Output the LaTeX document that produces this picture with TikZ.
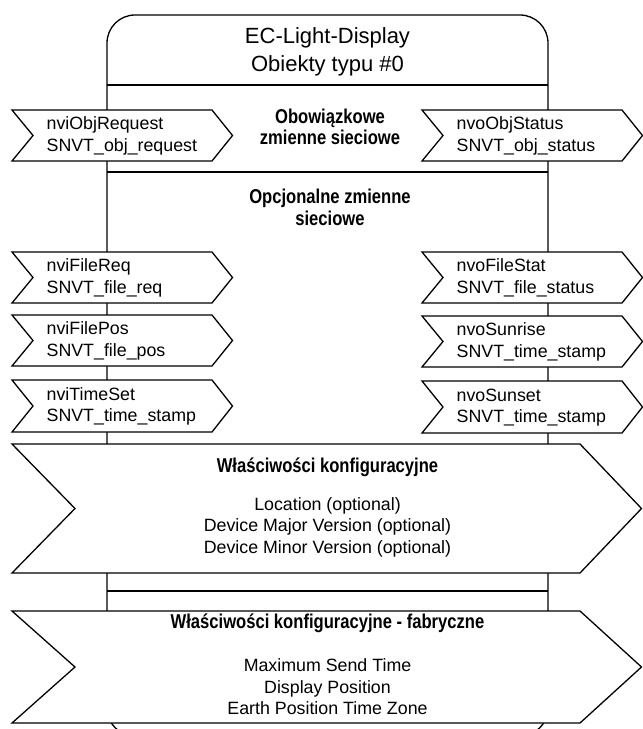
\documentclass[tikz,border=0pt]{standalone}
\usepackage{fontspec}
\setmainfont{Liberation Sans}
\newfontfamily\condsans{Liberation Sans}[FakeStretch=0.83]
\begin{document}
\begin{tikzpicture}[x=1pt,y=-1pt,line width=1.3pt,line join=miter,
  nvtext/.style={anchor=west,align=left,inner sep=0pt,font=\fontsize{17.8}{21.5}\selectfont},
  secttitle/.style={align=center,inner sep=0pt,font=\condsans\bfseries\fontsize{20}{21.5}\selectfont},
  itemtext/.style={align=center,inner sep=0pt,font=\fontsize{17.8}{21.5}\selectfont},
  shapeline/.style={draw=black,fill=white}]
\useasboundingbox (0,0) rectangle (643,729);
\begin{scope}
  \clip (0,0) rectangle (643,729);
  \draw[rounded corners=28pt] (107,736) rectangle (548,15);
\end{scope}
% title
\node[align=center,inner sep=0pt,font=\fontsize{22}{28}\selectfont] (title) at (327.5,52) {EC-Light-Display\\Obiekty typu \#0};
\draw (107,85) -- (548,85);
\draw (107,172) -- (548,172);
\draw (107,591) -- (548,591);
% section labels
\node[secttitle] (mand) at (330,127) {Obowiązkowe\\zmienne sieciowe};
\node[secttitle] (opt) at (330,207.5) {Opcjonalne zmienne\\sieciowe};
% arrow macro
\newcommand\nvarrow[6]{%
  \draw[shapeline] (#2,#3) -- ({#2+200},#3) -- ({#2+220.5},{(#3+#4)/2}) -- ({#2+200},#4) -- (#2,#4) -- ({#2+21},{(#3+#4)/2}) -- cycle;
  \node[nvtext] (#1) at ({#2+34},{(#3+#4)/2+0.5}) {#5\\#6};
}
\nvarrow{objreq}{12}{110}{161}{nviObjRequest}{SNVT\_obj\_request}
\nvarrow{objstat}{422}{110}{161}{nvoObjStatus}{SNVT\_obj\_status}
\nvarrow{filereq}{12}{252}{303}{nviFileReq}{SNVT\_file\_req}
\nvarrow{filepos}{12}{315}{366}{nviFilePos}{SNVT\_file\_pos}
\nvarrow{timeset}{12}{380}{432}{nviTimeSet}{SNVT\_time\_stamp}
\nvarrow{filestat}{422}{252}{303}{nvoFileStat}{SNVT\_file\_status}
\nvarrow{sunrise}{422}{316}{367}{nvoSunrise}{SNVT\_time\_stamp}
\nvarrow{sunset}{422}{381}{433}{nvoSunset}{SNVT\_time\_stamp}
% configuration chevrons
\draw[shapeline] (12,444) -- (580,444) -- (641.5,508.5) -- (580,573) -- (12,573) -- (75,508.5) -- cycle;
\node[secttitle] (cfgtitle) at (327.5,467) {Właściwości konfiguracyjne};
\node[itemtext] (cfgitems) at (327.5,527) {Location (optional)\\Device Major Version (optional)\\Device Minor Version (optional)};
\draw[shapeline] (12,611) -- (580,611) -- (641.5,667) -- (580,723) -- (12,723) -- (75,667) -- cycle;
\node[secttitle] (fabtitle) at (327.5,623) {Właściwości konfiguracyjne - fabryczne};
\node[itemtext] (fabitems) at (327.5,687) {Maximum Send Time\\Display Position\\Earth Position Time Zone};
\end{tikzpicture}
\end{document}
